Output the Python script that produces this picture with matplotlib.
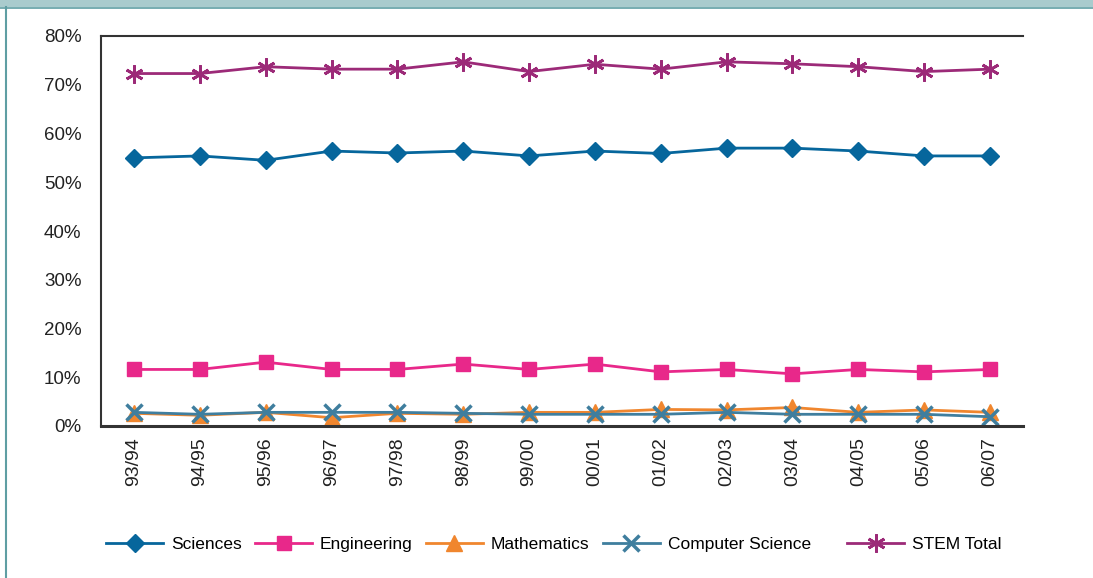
import matplotlib
matplotlib.use("Agg")
import matplotlib.pyplot as plt
from matplotlib.patches import Rectangle
from matplotlib.ticker import FuncFormatter, MultipleLocator

years = ["93/94", "94/95", "95/96", "96/97", "97/98", "98/99", "99/00",
         "00/01", "01/02", "02/03", "03/04", "04/05", "05/06", "06/07"]
sciences = [55.0, 55.4, 54.5, 56.4, 56.0, 56.4, 55.4, 56.4, 55.9, 57.0, 57.0, 56.4, 55.4, 55.4]
engineering = [11.6, 11.6, 13.1, 11.6, 11.6, 12.7, 11.6, 12.7, 11.1, 11.6, 10.7, 11.6, 11.1, 11.6]
mathematics = [2.6, 2.2, 2.8, 1.7, 2.6, 2.4, 2.8, 2.8, 3.4, 3.3, 3.8, 2.8, 3.3, 2.8]
computer_science = [2.8, 2.4, 2.8, 2.8, 2.8, 2.6, 2.4, 2.4, 2.4, 2.8, 2.4, 2.4, 2.4, 1.9]
stem_total = [72.3, 72.3, 73.7, 73.2, 73.2, 74.7, 72.7, 74.2, 73.2, 74.7, 74.3, 73.7, 72.7, 73.2]

plt.rcParams['font.family'] = ['Liberation Sans', 'DejaVu Sans']

W, H = 1093, 578
fig = plt.figure(figsize=(W / 100, H / 100), dpi=100)
# frame decorations
fig.patches.append(Rectangle((0, 1 - 7/H), 1, 7/H, transform=fig.transFigure,
                             facecolor="#a9cbcd", edgecolor="none", zorder=0))
fig.lines.append(plt.Line2D([0, 1], [1 - 7.5/H, 1 - 7.5/H], transform=fig.transFigure,
                            color="#5f9ea3", lw=1.2))
fig.lines.append(plt.Line2D([5.5/W, 5.5/W], [0, 1 - 7/H], transform=fig.transFigure,
                            color="#5f9ea3", lw=1.5))

ax = fig.add_axes([101/W, 1 - 426/H, (1023 - 101)/W, (426 - 36)/H])
x = list(range(len(years)))

l1, = ax.plot(x, sciences, color="#06669c", lw=2, marker="D", ms=9, label="Sciences")
l2, = ax.plot(x, engineering, color="#e8288a", lw=2, marker="s", ms=10, label="Engineering")
l3, = ax.plot(x, mathematics, color="#f0862e", lw=2, marker="^", ms=12, label="Mathematics")
l4, = ax.plot(x, computer_science, color="#3f7e9e", lw=2, marker="x", ms=11, mew=2.5,
              label="Computer Science")
l5, = ax.plot(x, stem_total, color="#9c2a78", lw=2, marker=(6, 2, 0), ms=13, mew=2,
              label="STEM Total")

ax.set_xlim(-0.5, len(years) - 0.5)
ax.set_ylim(0, 80)
ax.yaxis.set_major_locator(MultipleLocator(10))
ax.yaxis.set_major_formatter(FuncFormatter(lambda v, p: f"{int(v)}%"))
ax.set_xticks(x)
ax.set_xticklabels(years, rotation=90, fontsize=14, color="#222222")
for lab in ax.get_yticklabels():
    lab.set_fontsize(13.5)
    lab.set_color("#222222")
ax.tick_params(length=0, pad=8)
ax.tick_params(axis='y', pad=14)
ax.spines['right'].set_visible(False)
for s in ['left', 'bottom', 'top']:
    ax.spines[s].set_color("#333333")
    ax.spines[s].set_linewidth(1.5)
ax.spines['bottom'].set_linewidth(2.2)

leg_kw = dict(frameon=False, fontsize=12.5, handlelength=3.3, handletextpad=0.45,
              columnspacing=0.75, borderaxespad=0, borderpad=0)
leg1 = fig.legend(handles=[l1, l2, l3, l4], loc="center left",
                  bbox_to_anchor=(106/W, 1 - 544/H), ncol=4, **leg_kw)
leg2 = fig.legend(handles=[l5], loc="center left",
                  bbox_to_anchor=(847/W, 1 - 544/H), ncol=1, **leg_kw)

fig.savefig("out.png", dpi=100, facecolor="white")
